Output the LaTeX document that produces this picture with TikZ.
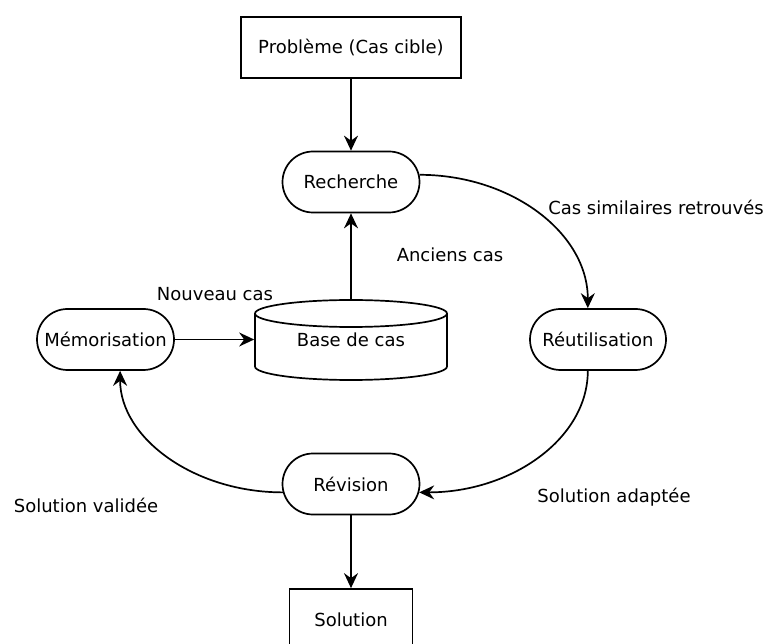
\documentclass[tikz,border=0pt]{standalone}
\usepackage{fontspec}
\setmainfont{DejaVu Sans}
\usetikzlibrary{shapes.misc,arrows.meta}
\begin{document}
\begin{tikzpicture}[x=1pt,y=-1pt, line width=1.7pt,
  font=\fontsize{18}{21}\selectfont,
  box/.style={draw, rectangle, inner sep=2pt, minimum height=61pt},
  pill/.style={draw, rounded rectangle, minimum width=141pt, minimum height=61pt, inner sep=2pt},
  lbl/.style={inner sep=0pt},
  arr/.style={-{Stealth[length=15pt,width=14pt,inset=5pt]}}]
\clip (0,0) rectangle (769,644);
% nodes
\node[box, minimum width=220pt] (prob) at (351,47.5) {Problème (Cas cible)};
\node[pill] (rech) at (351,182) {Recherche};
\node[pill] (mem) at (105.5,339.5) {Mémorisation};
\node[pill, minimum width=140pt] (reu) at (598,339.5) {Réutilisation};
\node[pill] (rev) at (351,484) {Révision};
\node[box, minimum width=123pt] (sol) at (351,619.5) {Solution};
% cylinder
\draw (351,313.5) ellipse [x radius=96pt, y radius=13.5pt];
\draw (255,313.5) -- (255,366.5) arc[start angle=180,end angle=360,x radius=96pt,y radius=13.5pt] -- (447,313.5);
\node[lbl, minimum width=192pt, minimum height=80pt] (base) at (351,339.5) {Base de cas};
% connectors
\draw[arr] (prob.south) -- (rech.north);
\draw[arr] (base.north) -- (rech.south);
\draw[arr] (mem.east) -- (base.west);
\draw[arr] (rev.south) -- (sol.north);
\draw[arr] (rech.6) .. controls +(92,0) and +(0,-75) .. (reu.108);
\draw[arr] (reu.252) .. controls +(0,68) and +(92,0) .. (rev.-7);
\draw[arr] (rev.187) .. controls +(-89,0) and +(0,67) .. (mem.-65);
% labels
\node[lbl] (l1) at (656,207) {Cas similaires retrouvés};
\node[lbl] (l2) at (450,255) {Anciens cas};
\node[lbl] (l3) at (215,294) {Nouveau cas};
\node[lbl] (l4) at (614,497) {Solution adaptée};
\node[lbl] (l5) at (86,505) {Solution validée};
\end{tikzpicture}
\end{document}
